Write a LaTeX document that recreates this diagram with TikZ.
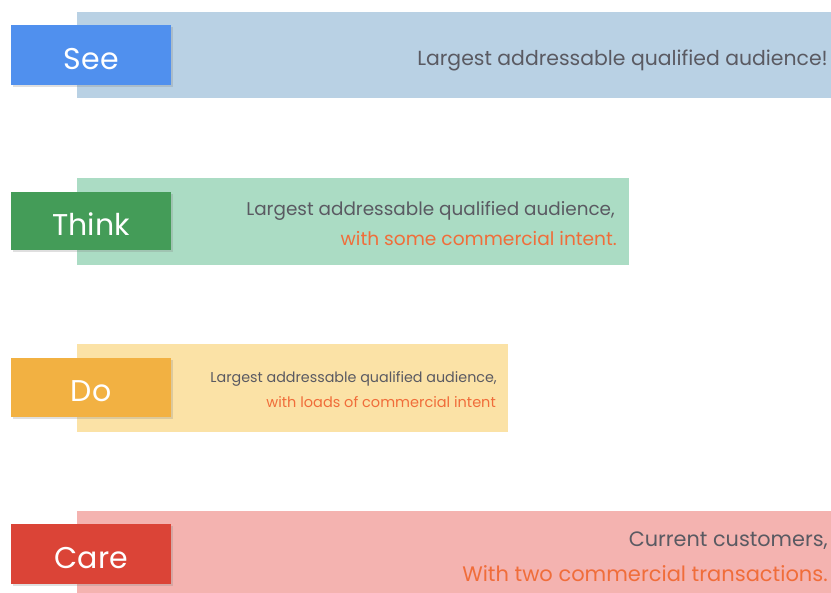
\documentclass[tikz,border=0pt]{standalone}
\usepackage{fontspec}
\setmainfont{Poppins}
\usetikzlibrary{shadows}
\definecolor{seeband}{HTML}{B9D1E4}
\definecolor{seelab}{HTML}{5090EE}
\definecolor{thinkband}{HTML}{ABDCC4}
\definecolor{thinklab}{HTML}{449C58}
\definecolor{doband}{HTML}{FBE2A6}
\definecolor{dolab}{HTML}{F2B142}
\definecolor{careband}{HTML}{F4B3B0}
\definecolor{carelab}{HTML}{DB4437}
\definecolor{txtgray}{HTML}{5A5A62}
\definecolor{txtorange}{HTML}{F06D3A}
\begin{document}
\begin{tikzpicture}[x=1pt,y=-1pt,
  band/.style={anchor=north west,inner sep=0pt,minimum height=86pt},
  lab/.style={anchor=north west,inner sep=0pt,minimum width=160pt,minimum height=60pt,
    text=white,font=\fontsize{30}{32}\selectfont,text height=28pt,text depth=0pt,
    drop shadow={opacity=0.25,shadow xshift=1.5pt,shadow yshift=-1.5pt}},
  gtxt/.style={anchor=base east,inner sep=0pt,text=txtgray},
  otxt/.style={anchor=base east,inner sep=0pt,text=txtorange}]
\useasboundingbox (0,0) rectangle (831,593);
% bands
\node[band,fill=seeband,minimum width=754pt] (b1) at (77,12) {};
\node[band,fill=thinkband,minimum width=552pt,minimum height=87pt] (b2) at (77,178) {};
\node[band,fill=doband,minimum width=431pt,minimum height=88pt] (b3) at (77,344) {};
\node[band,fill=careband,minimum width=754pt,minimum height=82pt] (b4) at (77,511) {};
% labels
\node[lab,fill=seelab] (l1) at (11,25) {See};
\node[lab,fill=thinklab,minimum height=58pt] (l2) at (11,192) {Think};
\node[lab,fill=dolab,minimum height=59pt] (l3) at (11,358) {Do};
\node[lab,fill=carelab] (l4) at (11,524) {Care};
% texts
\node[gtxt,font=\fontsize{20.4}{22}\selectfont] (t1) at (828,66) {Largest addressable qualified audience!};
\node[gtxt,font=\fontsize{18.4}{20}\selectfont] (t2a) at (615,216) {Largest addressable qualified audience,};
\node[otxt,font=\fontsize{18.6}{20}\selectfont] (t2b) at (617,246) {with some commercial intent.};
\node[gtxt,font=\fontsize{14.3}{16}\selectfont] (t3a) at (497,383) {Largest addressable qualified audience,};
\node[otxt,font=\fontsize{14.5}{16}\selectfont] (t3b) at (496,408) {with loads of commercial intent};
\node[gtxt,font=\fontsize{20.8}{22}\selectfont] (t4a) at (828,547) {Current customers,};
\node[otxt,font=\fontsize{21}{22}\selectfont] (t4b) at (828,582) {With two commercial transactions.};
\end{tikzpicture}
\end{document}
